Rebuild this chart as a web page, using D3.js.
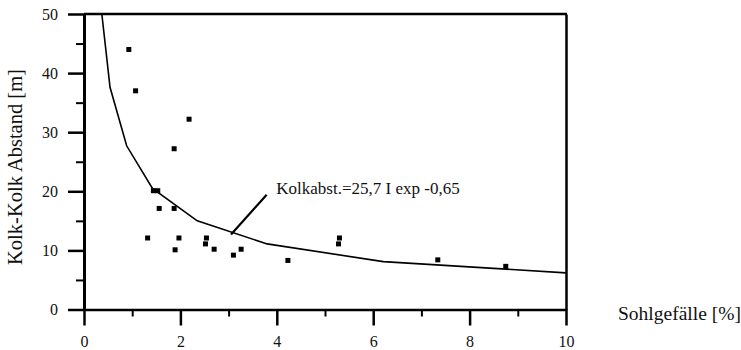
<!DOCTYPE html>
<html>
<head>
<meta charset="utf-8">
<script src="https://cdn.jsdelivr.net/npm/d3@7"></script>
<style>
  body { margin: 0; background: #fff; }
  .axis path, .axis line { stroke: #000; }
</style>
</head>
<body>
<svg width="741" height="350"></svg>
<script>
// measured points: Sohlgefaelle [%] vs Kolk-Kolk Abstand [m]
const slopeValues = [0.93, 1.07, 2.18, 1.87, 1.44, 1.53, 1.56, 1.87, 1.32, 1.97, 1.89,
  2.54, 2.52, 2.70, 3.10, 3.26, 4.23, 5.30, 5.28, 7.34, 8.75];
const distanceValues = [44, 37, 32.2, 27.2, 20.1, 20.1, 17.1, 17.1, 12.1, 12.1, 10.1,
  12.1, 11.1, 10.2, 9.2, 10.2, 8.3, 12.1, 11.1, 8.4, 7.3];

// fitted curve vertices as drawn in the figure
const curveX = [0.37, 0.54, 0.885, 1.42, 2.35, 3.8, 6.21, 10];
const curveY = [50, 37.6, 27.7, 20.5, 15.0, 11.1, 8.1, 6.2];

const xMajorTicks = [0, 2, 4, 6, 8, 10];
const xMinorTicks = [1, 3, 5, 7, 9];
const yMajorTicks = [0, 10, 20, 30, 40, 50];
const yMinorTicks = [5, 15, 25, 35, 45];

const fitLabel = "Kolkabst.=25,7 I exp -0,65";
const xTitle = "Sohlgefälle [%]";
const yTitle = "Kolk-Kolk Abstand [m]";

const serif = "'Liberation Serif', 'DejaVu Serif', 'Times New Roman', Times, serif";

let svg = d3.select("svg");
let margin = { top: 14, left: 84 };
let width = 482, height = 295.5;

let x = d3.scaleLinear().domain([0, 10]).range([0, width]);
let y = d3.scaleLinear().domain([0, 50]).range([height, 0]);

let chart = svg.append("g").attr("transform", "translate(" + margin.left + "," + margin.top + ")");

// minor ticks first (no labels)
chart.append("g")
  .attr("class", "axis")
  .attr("transform", "translate(0," + height + ")")
  .call(d3.axisBottom(x).tickValues(xMinorTicks).tickSize(7).tickSizeOuter(0).tickFormat(""))
  .call(g => g.select(".domain").remove())
  .selectAll("line").attr("stroke-width", 2);

chart.append("g")
  .attr("class", "axis")
  .call(d3.axisLeft(y).tickValues(yMinorTicks).tickSize(8).tickSizeOuter(0).tickFormat(""))
  .call(g => g.select(".domain").remove())
  .selectAll("line").attr("stroke-width", 2);

// top and right frame lines
chart.append("g")
  .attr("class", "axis")
  .call(d3.axisTop(x).tickValues([]).tickSizeOuter(0))
  .select(".domain").attr("stroke-width", 2.5).attr("d", "M0,0H" + (width + 1));

chart.append("g")
  .attr("class", "axis")
  .attr("transform", "translate(" + width + ",0)")
  .call(d3.axisRight(y).tickValues([]).tickSizeOuter(0))
  .select(".domain").attr("stroke-width", 2.5);

// major axes
let xAxis = chart.append("g")
  .attr("class", "axis")
  .attr("transform", "translate(0," + height + ")")
  .call(d3.axisBottom(x).tickValues(xMajorTicks).tickSize(16).tickPadding(10).tickSizeOuter(0));
xAxis.select(".domain").attr("stroke-width", 2.5);
xAxis.selectAll("line").attr("stroke-width", 2.5);

let yAxis = chart.append("g")
  .attr("class", "axis")
  .call(d3.axisLeft(y).tickValues(yMajorTicks).tickSize(16).tickPadding(10).tickSizeOuter(0));
yAxis.select(".domain").attr("stroke-width", 3);
yAxis.selectAll("line").attr("stroke-width", 2.5);

svg.selectAll(".axis").attr("font-family", serif).attr("font-size", 16);
svg.selectAll(".axis text").attr("fill", "#111");

// fitted curve
let curveData = curveX.map((d, i) => [d, curveY[i]]);
chart.append("path")
  .datum(curveData)
  .attr("fill", "none")
  .attr("stroke", "#000")
  .attr("stroke-width", 1.6)
  .attr("d", d3.line().x(d => x(d[0])).y(d => y(d[1])));

// measured points
let points = slopeValues.map((d, i) => [d, distanceValues[i]]);
chart.append("g").selectAll("rect")
  .data(points)
  .enter().append("rect")
  .attr("x", d => x(d[0]) - 2.5)
  .attr("y", d => y(d[1]) - 2.5)
  .attr("width", 5)
  .attr("height", 5)
  .attr("fill", "#000");

// annotation with leader line
chart.append("line")
  .attr("x1", x(3.05)).attr("y1", y(12.7))
  .attr("x2", x(3.79)).attr("y2", y(19.4))
  .attr("stroke", "#000")
  .attr("stroke-width", 2.2);

chart.append("text")
  .attr("x", x(3.99))
  .attr("y", y(19.6))
  .attr("font-family", serif)
  .attr("font-size", 17)
  .attr("fill", "#111")
  .text(fitLabel);

// axis titles
svg.append("text")
  .attr("x", 618)
  .attr("y", 320)
  .attr("font-family", serif)
  .attr("font-size", 19.5)
  .attr("fill", "#111")
  .text(xTitle);

svg.append("text")
  .attr("transform", "translate(22,167) rotate(-90)")
  .attr("text-anchor", "middle")
  .attr("font-family", serif)
  .attr("font-size", 20.5)
  .attr("fill", "#111")
  .text(yTitle);
</script>
</body>
</html>
